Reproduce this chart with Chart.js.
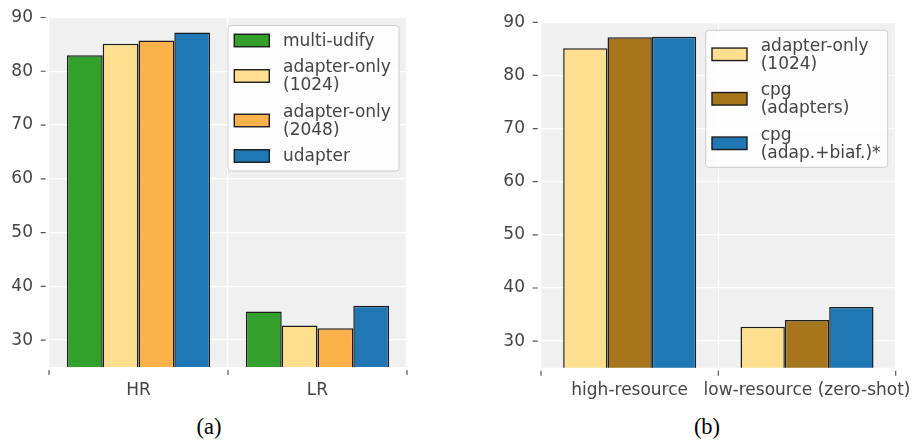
<!DOCTYPE html>
<html>
<head>
<meta charset="utf-8">
<script src="https://cdn.jsdelivr.net/npm/chart.js@4.4.1/dist/chart.umd.min.js"></script>
<style>
  html, body { margin: 0; padding: 0; background: #fff; width: 913px; height: 440px; overflow: hidden; position: relative; }
  canvas { position: absolute; top: 0; }
  .cap { position: absolute; font-family: 'Liberation Serif', serif; font-size: 22.5px; line-height: 22.5px; color: #000; transform: translateX(-50%); white-space: nowrap; }
</style>
</head>
<body>
<canvas id="chartA" width="460" height="405" style="left:0"></canvas>
<canvas id="chartB" width="453" height="405" style="left:460px"></canvas>
<div class="cap" style="left:209px; top:416px">(a)</div>
<div class="cap" style="left:707px; top:416px">(b)</div>
<script>
// Panel (a): LAS by resource group
const categoriesA = ['HR', 'LR'];
const multiUdify = [83.0, 35.3];
const adapterOnly1024 = [85.1, 32.7];
const adapterOnly2048 = [85.7, 32.2];
const udapter = [87.2, 36.4];
const namesA = [['multi-udify'], ['adapter-only', '(1024)'], ['adapter-only', '(2048)'], ['udapter']];

// Panel (b): contextual parameter generation variants
const categoriesB = ['high-resource', 'low-resource (zero-shot)'];
const adapterOnly1024B = [85.1, 32.7];
const cpgAdapters = [87.2, 34.0];
const cpgAdapBiaf = [87.3, 36.4];
const namesB = [['adapter-only', '(1024)'], ['cpg', '(adapters)'], ['cpg', '(adap.+biaf.)*']];

const yMin = 25, yMax = 90, yStep = 10;

const GREEN = '#33a02c', YELLOW = '#fedf8f', ORANGE = '#fdb14b', BLUE = '#1f78b4', BROWN = '#a6761d';
const EDGE = '#1c1c1c';
const TEXT = '#444444';
const FONT = { family: '"DejaVu Sans"', size: 17 };

// grey plotting area
const plotBg = {
  id: 'plotBg',
  beforeDraw(chart) {
    const { ctx, chartArea: a } = chart;
    ctx.save();
    ctx.fillStyle = '#f0f0f0';
    ctx.fillRect(a.left, a.top, a.right - a.left, a.bottom - a.top);
    ctx.restore();
  }
};

// short outward tick marks, detached from the plotting area
const outerTicks = {
  id: 'outerTicks',
  afterDraw(chart) {
    const { ctx, chartArea: a, scales: { x, y } } = chart;
    ctx.save();
    ctx.strokeStyle = '#555555';
    ctx.lineWidth = 1.2;
    ctx.beginPath();
    y.ticks.forEach(t => {
      const py = y.getPixelForValue(t.value);
      ctx.moveTo(a.left - 8.3, py);
      ctx.lineTo(a.left - 3.3, py);
    });
    const n = x.ticks.length;
    for (let i = 0; i <= n; i++) {
      const px = x.left + i * x.width / n;
      ctx.moveTo(px, a.bottom + 3);
      ctx.lineTo(px, a.bottom + 8);
    }
    ctx.stroke();
    ctx.restore();
  }
};

// framed legend in the upper right corner of the plotting area
const boxLegend = {
  id: 'boxLegend',
  afterDatasetsDraw(chart, args, opts) {
    const { ctx, chartArea: a } = chart;
    const items = chart.data.datasets.map(ds => ({ lines: ds.nameLines, fill: ds.backgroundColor, edge: ds.borderColor }));
    const patchX = 6.3, patchW = 35, patchH = 12.5, textGap = 13.7, lineH = 18, gap = 8.5, padT = 6, padB = 6;
    const w = opts.width;
    const h = padT + padB + items.reduce((s, it) => s + it.lines.length * lineH, 0) + gap * (items.length - 1);
    const bx = a.right - 8 - w, by = a.top + 8;
    ctx.save();
    ctx.beginPath();
    ctx.roundRect(bx, by, w, h, 3);
    ctx.fillStyle = 'rgba(255,255,255,0.85)';
    ctx.fill();
    ctx.strokeStyle = '#cccccc';
    ctx.lineWidth = 1;
    ctx.stroke();
    ctx.font = FONT.size + 'px ' + FONT.family;
    ctx.textBaseline = 'middle';
    ctx.textAlign = 'left';
    let cy = by + padT;
    items.forEach(it => {
      const ih = it.lines.length * lineH;
      const mid = cy + ih / 2;
      ctx.fillStyle = it.fill;
      ctx.fillRect(bx + patchX, mid - patchH / 2, patchW, patchH);
      ctx.strokeStyle = it.edge;
      ctx.lineWidth = 1.4;
      ctx.strokeRect(bx + patchX, mid - patchH / 2, patchW, patchH);
      ctx.fillStyle = TEXT;
      it.lines.forEach((l, k) => ctx.fillText(l, bx + patchX + patchW + textGap, cy + lineH * (k + 0.5) + 1));
      cy += ih + gap;
    });
    ctx.restore();
  }
};

function bar(label, nameLines, data, color, catPct) {
  return {
    label, nameLines, data,
    backgroundColor: color, borderColor: EDGE, borderWidth: 1.5,
    categoryPercentage: catPct, barPercentage: 1.0
  };
}

function makeOptions(yAxisWidth, padding, xHeight, legendWidth) {
  return {
    responsive: false,
    devicePixelRatio: 1,
    animation: false,
    layout: { padding },
    plugins: {
      legend: { display: false },
      tooltip: { enabled: false },
      boxLegend: { width: legendWidth }
    },
    scales: {
      x: {
        offset: true,
        grid: { color: '#ffffff', lineWidth: 1.3, drawTicks: false, offset: true },
        border: { display: false },
        ticks: { color: TEXT, font: FONT, padding: 13, maxRotation: 0, minRotation: 0, autoSkip: false },
        afterFit(s) { s.height = xHeight; s.paddingLeft = 0; s.paddingRight = 0; }
      },
      y: {
        min: yMin, max: yMax,
        grid: { color: '#ffffff', lineWidth: 1.3, drawTicks: false },
        border: { display: false },
        ticks: { stepSize: yStep, includeBounds: false, color: TEXT, font: FONT, padding: 16 },
        afterFit(s) { s.width = yAxisWidth; s.paddingTop = 0; s.paddingBottom = 0; }
      }
    }
  };
}

new Chart(document.getElementById('chartA'), {
  type: 'bar',
  data: {
    labels: categoriesA,
    datasets: [
      bar('multi-udify', namesA[0], multiUdify, GREEN, 0.8),
      bar('adapter-only (1024)', namesA[1], adapterOnly1024, YELLOW, 0.8),
      bar('adapter-only (2048)', namesA[2], adapterOnly2048, ORANGE, 0.8),
      bar('udapter', namesA[3], udapter, BLUE, 0.8)
    ]
  },
  options: makeOptions(49, { left: 0, right: 53, top: 17.5, bottom: 0 }, 38, 171),
  plugins: [plotBg, outerTicks, boxLegend]
});

new Chart(document.getElementById('chartB'), {
  type: 'bar',
  data: {
    labels: categoriesB,
    datasets: [
      bar('adapter-only (1024)', namesB[0], adapterOnly1024B, YELLOW, 0.75),
      bar('cpg (adapters)', namesB[1], cpgAdapters, BROWN, 0.75),
      bar('cpg (adap.+biaf.)*', namesB[2], cpgAdapBiaf, BLUE, 0.75)
    ]
  },
  options: makeOptions(81, { left: 0, right: 17.3, top: 22.3, bottom: 0 }, 37.3, 182),
  plugins: [plotBg, outerTicks, boxLegend]
});
</script>
</body>
</html>
